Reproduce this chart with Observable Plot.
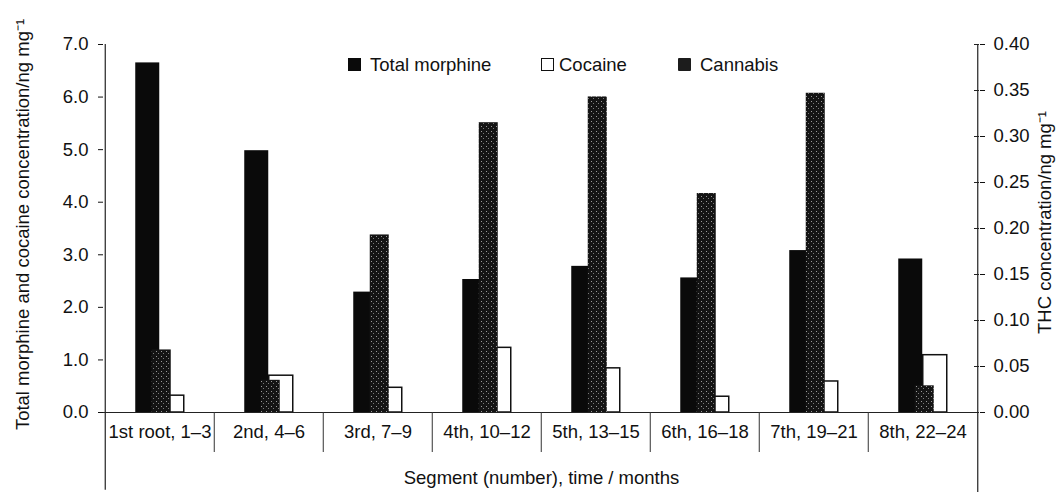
<!DOCTYPE html>
<html>
<head>
<meta charset="utf-8">
<script src="https://cdn.jsdelivr.net/npm/d3@7"></script>
<script src="https://cdn.jsdelivr.net/npm/@observablehq/plot@0.6"></script>
<style>
  body { margin: 0; background: #fff; font-family: "Liberation Sans", Arial, sans-serif; color: #111; }
  #wrap { position: relative; width: 1060px; height: 492px; }
  .lg { position: absolute; top: 56px; font-size: 18.5px; line-height: 18.5px; white-space: nowrap; }
  .sw { position: absolute; top: 58px; width: 13px; height: 13px; box-sizing: border-box; }
</style>
</head>
<body>
<div id="wrap"></div>
<script>
// ---- data ----
const segments = ["1st root, 1–3", "2nd, 4–6", "3rd, 7–9", "4th, 10–12", "5th, 13–15", "6th, 16–18", "7th, 19–21", "8th, 22–24"];
const morphine = [6.65, 4.98, 2.29, 2.53, 2.78, 2.56, 3.08, 2.92];
const cocaine  = [0.32, 0.70, 0.47, 1.23, 0.84, 0.30, 0.59, 1.09];
const thc      = [0.068, 0.035, 0.193, 0.315, 0.343, 0.238, 0.347, 0.029];
const leftTicks  = [0, 1, 2, 3, 4, 5, 6, 7];
const rightTicks = [0, 0.05, 0.10, 0.15, 0.20, 0.25, 0.30, 0.35, 0.40];
const seriesNames = ["Total morphine", "Cocaine", "Cannabis"];
const leftTitle  = "Total morphine and cocaine concentration/ng mg⁻¹";
const rightTitle = "THC concentration/ng mg⁻¹";
const xTitle     = "Segment (number), time / months";

const leftMax = 7, rightMax = 0.40;
const k = leftMax / rightMax; // secondary axis -> primary axis units

const rows = segments.map((s, i) => ({seg: s, morphine: morphine[i], cocaine: cocaine[i], thc: thc[i]}));

const font = '"Liberation Sans", Arial, sans-serif';
const half = 876 / 8 / 2;
const fs = 18.5;

const plot = Plot.plot({
  width: 1060,
  height: 492,
  marginLeft: 103,
  marginRight: 81,
  marginTop: 44,
  marginBottom: 80,
  style: {fontFamily: font, fontSize: fs + "px", color: "#111", background: "white", overflow: "visible"},
  x: {domain: segments, padding: 0, axis: null},
  y: {domain: [0, leftMax], axis: null},
  marks: [
    Plot.barY(rows, {x: "seg", y: "morphine", fill: "#0a0a0a", insetLeft: half - 24.5, insetRight: half}),
    Plot.barY(rows, {x: "seg", y: "cocaine", fill: "white", stroke: "#111", strokeWidth: 1.5, insetLeft: half, insetRight: half - 24.5}),
    Plot.barY(rows, {x: "seg", y: d => d.thc * k, fill: "url(#stipple)", insetLeft: half - 8, insetRight: half - 11.5}),
    Plot.ruleY([0], {stroke: "#222", strokeWidth: 1.2}),
    // left axis
    Plot.axisY({anchor: "left", ticks: leftTicks, tickFormat: d => d.toFixed(1), tickSize: 5, tickPadding: 10, label: null, fontSize: fs}),
    // right axis
    Plot.axisY({anchor: "right", ticks: rightTicks.map(v => v * k), tickFormat: d => (d / k).toFixed(2), tickSize: 5, tickPadding: 9, label: null, fontSize: fs}),
    Plot.tickY(rightTicks.map(v => v * k), {y: d => d, insetLeft: 871, stroke: "#222"}),
    // category labels
    Plot.axisX({ticks: segments, tickSize: 0, tickPadding: 12, label: null, fontSize: fs}),
    // category separators
    Plot.axisX({ticks: segments.slice(1), tickSize: 40, tickFormat: () => "", dx: -half, label: null, stroke: "#333"}),
    // axis lines
    Plot.ruleX([segments[0]], {x: d => d, dx: -half, y1: leftMax, y2: -1.48, stroke: "#222", strokeWidth: 1.2}),
    Plot.ruleX([segments[segments.length - 1]], {x: d => d, dx: half, y1: leftMax, y2: -1.52, stroke: "#222", strokeWidth: 1.2}),
    // titles
    Plot.text([leftTitle], {text: d => d, frameAnchor: "left", textAnchor: "middle", lineAnchor: "middle", rotate: -90, dx: -80, dy: -4, fontSize: fs}),
    Plot.text([rightTitle], {text: d => d, frameAnchor: "right", textAnchor: "middle", lineAnchor: "middle", rotate: -90, dx: 66, dy: -6, fontSize: fs}),
    Plot.text([xTitle], {text: d => d, frameAnchor: "bottom", textAnchor: "middle", lineAnchor: "middle", dy: 66, fontSize: fs})
  ]
});

// stipple pattern for cannabis
const defs = d3.select(plot).insert("defs", ":first-child");
const pat = defs.append("pattern").attr("id", "stipple").attr("patternUnits", "userSpaceOnUse")
  .attr("width", 5).attr("height", 5);
pat.append("rect").attr("width", 5).attr("height", 5).attr("fill", "#141414");
pat.append("rect").attr("x", 1).attr("y", 1).attr("width", 1).attr("height", 1).attr("fill", "#9a9a9a");
pat.append("rect").attr("x", 3).attr("y", 3).attr("width", 1).attr("height", 1).attr("fill", "#7a7a7a");

const wrap = document.getElementById("wrap");
wrap.appendChild(plot);

// legend (overlaid inside plot area like the original)
const legendItems = [
  {name: seriesNames[0], sx: 348, tx: 370, style: "background:#0a0a0a;"},
  {name: seriesNames[1], sx: 541, tx: 559, style: "background:#fff;border:1.5px solid #111;"},
  {name: seriesNames[2], sx: 678, tx: 700, style: "background:#1c1c1c;border-radius:1px;"}
];
for (const it of legendItems) {
  const sw = document.createElement("div");
  sw.className = "sw";
  sw.style.cssText += `left:${it.sx}px;${it.style}`;
  wrap.appendChild(sw);
  const t = document.createElement("div");
  t.className = "lg";
  t.style.left = it.tx + "px";
  t.textContent = it.name;
  wrap.appendChild(t);
}
</script>
</body>
</html>
